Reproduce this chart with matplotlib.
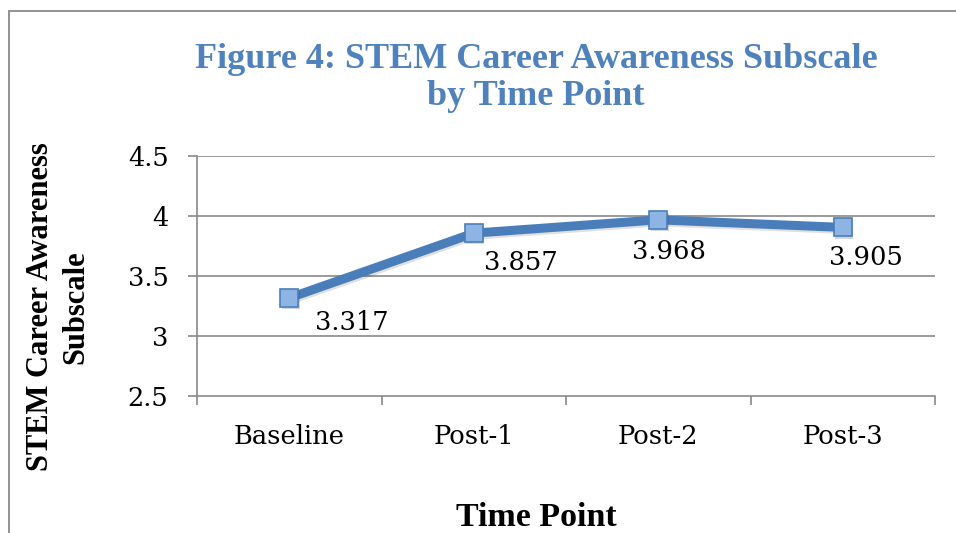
import matplotlib
matplotlib.use("Agg")
import matplotlib.pyplot as plt
import matplotlib.patheffects as pe
from matplotlib.patches import Rectangle

# data
time_points = ["Baseline", "Post-1", "Post-2", "Post-3"]
scores = [3.317, 3.857, 3.968, 3.905]
y_ticks = [2.5, 3, 3.5, 4, 4.5]
y_tick_labels = ["2.5", "3", "3.5", "4", "4.5"]

serif = ["DejaVu Serif"]
bold_serif = ["Liberation Serif"]
grey = "#898989"
blue = "#4A7EBB"

fig = plt.figure(figsize=(9.56, 5.33), dpi=100)
ax = fig.add_axes([197 / 956, 1 - 396 / 533, (935 - 197) / 956, (396 - 156) / 533])

# outer chart border (runs off right and bottom edges)
fig.patches.append(Rectangle((8.5 / 956, -0.1), 1.2, 1 - 11 / 533 + 0.1,
                             transform=fig.transFigure, fill=False,
                             edgecolor=grey, linewidth=1.3))

x = list(range(len(time_points)))
ax.plot(x, scores, color=blue, linewidth=6.5, solid_capstyle="butt", zorder=3,
        path_effects=[pe.SimpleLineShadow(offset=(1, -1.5), alpha=0.12), pe.Normal()])
ax.plot(x, scores, linestyle="none", marker="s", markersize=13,
        markerfacecolor="#8DB4E3", markeredgecolor="#4A7EBB", markeredgewidth=1.2, zorder=4,
        path_effects=[pe.SimplePatchShadow(offset=(1, -1.5), alpha=0.2), pe.Normal()])

# data labels (offsets in points, as placed in the original)
label_offsets = [(45, -18), (34, -21), (8, -23), (17, -22)]
for xi, v, off in zip(x, scores, label_offsets):
    ax.annotate(f"{v:.3f}", (xi, v), xytext=off, textcoords="offset points",
                ha="center", va="center", fontsize=18.5, family=serif, zorder=5)

ax.set_xlim(-0.5, len(time_points) - 0.5)
ax.set_ylim(2.5, 4.5)
ax.set_yticks(y_ticks)
ax.set_yticklabels(y_tick_labels, family=serif, fontsize=18.5)
ax.tick_params(axis="y", length=6.5, width=1.2, color=grey, pad=14)

ax.set_xticks([i - 0.5 for i in range(len(time_points) + 1)])
ax.set_xticklabels([])
ax.set_xticks(x, minor=True)
ax.set_xticklabels(time_points, minor=True, family=serif, fontsize=18.5)
ax.tick_params(axis="x", which="major", length=6.5, width=1.2, color=grey)
ax.tick_params(axis="x", which="minor", length=0, pad=20)

for g in [3, 3.5, 4, 4.5]:
    ax.axhline(g, color=grey, linewidth=1.2, zorder=1)
for s in ["top", "right"]:
    ax.spines[s].set_visible(False)
for s in ["left", "bottom"]:
    ax.spines[s].set_color(grey)
    ax.spines[s].set_linewidth(1.2)

fig.text(536 / 956, 1 - 78 / 533, "Figure 4: STEM Career Awareness Subscale\nby Time Point",
         ha="center", va="center", fontsize=26, fontweight="bold", color="#4F81BD",
         family=bold_serif, linespacing=1.15)
fig.text(58 / 956, 1 - 307 / 533, "STEM Career Awareness\nSubscale", rotation=90,
         ha="center", va="center", multialignment="center", fontsize=22,
         fontweight="bold", family=bold_serif, linespacing=1.3)
fig.text(536 / 956, 1 - 518 / 533, "Time Point", ha="center", va="center",
         fontsize=24.5, fontweight="bold", family=bold_serif)

fig.savefig("out.png", dpi=100)
